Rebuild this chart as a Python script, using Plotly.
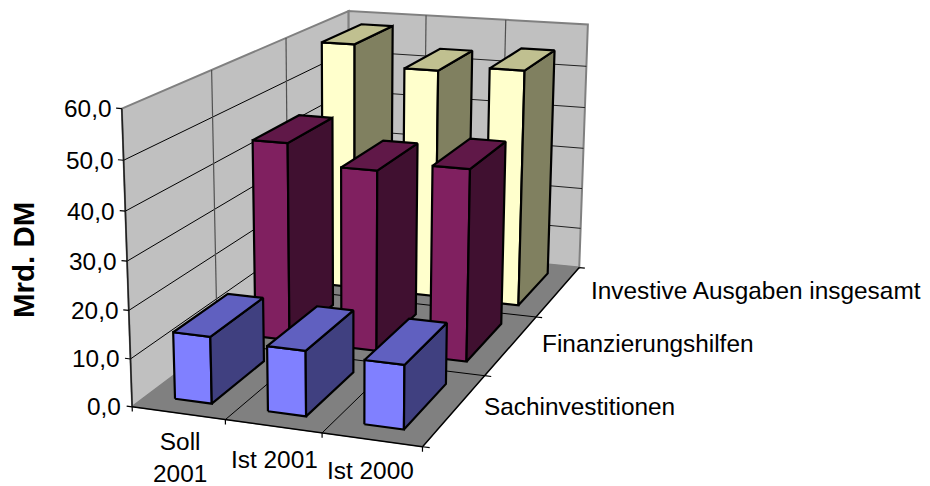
import numpy as np
import plotly.graph_objects as go

categories = ["Soll<br>2001", "Ist 2001", "Ist 2000"]
series_names = ["Sachinvestitionen", "Finanzierungshilfen", "Investive Ausgaben insgesamt"]
sach = [14.0, 13.5, 13.1]
finanz = [44.0, 39.7, 41.7]
gesamt = [58.2, 53.4, 54.7]
y_ticks = [0, 10, 20, 30, 40, 50, 60]
y_title = "Mrd. DM"

series_values = [sach, finanz, gesamt]
series_colors = [("#8080FF", "#404080", "#6060C0"),
                 ("#802060", "#401030", "#601848"),
                 ("#FFFFCC", "#808060", "#C0C090")]

# view of the 3-D box: category, series, value -> picture position
VIEW = np.array([[89.121, 106.66, -0.26347, 132.14],
                 [5.1981, -29.993, -5.051, 406.79],
                 [-0.018161, 0.098875, -0.00075264, 1.0]])
N_C, N_S, V_MAX = len(categories), len(series_names), y_ticks[-1]
BAR_U, BAR_V = (0.30, 0.70), (0.17, 0.82)
PAGE_INSET = 8  # default page margin around the figure


def pr(u, v, w):
    h = VIEW @ np.array([u, v, w, 1.0])
    return h[0] / h[2], h[1] / h[2]


fig = go.Figure()


def face(corners, fill=None, line="black", width=2.2):
    pts = [pr(*c) for c in corners]
    if fill:
        pts = pts + [pts[0]]
    fig.add_trace(go.Scatter(
        x=[p[0] for p in pts], y=[p[1] for p in pts], mode="lines",
        fill="toself" if fill else None, fillcolor=fill,
        line=dict(color=line, width=width), hoverinfo="skip", showlegend=False))


# walls and floor
face([(0, 0, 0), (0, N_S, 0), (0, N_S, V_MAX), (0, 0, V_MAX)], "#C0C0C0", "#808080", 2)
face([(0, N_S, 0), (N_C, N_S, 0), (N_C, N_S, V_MAX), (0, N_S, V_MAX)], "#C0C0C0", "#808080", 2)
face([(0, 0, 0), (N_C, 0, 0), (N_C, N_S, 0), (0, N_S, 0)], "#808080", "#808080", 1)

# gridlines
for t in y_ticks[1:-1]:
    face([(0, 0, t), (0, N_S, t)], None, "#000000", 1)
    face([(0, N_S, t), (N_C, N_S, t)], None, "#202020", 1)
for j in range(1, N_S):
    face([(0, j, 0), (0, j, V_MAX)], None, "#505050", 1.2)
    face([(0, j, 0), (N_C, j, 0)], None, "#000000", 1)
for i in range(1, N_C):
    face([(i, N_S, 0), (i, N_S, V_MAX)], None, "#505050", 1.2)
    face([(i, 0, 0), (i, N_S, 0)], None, "#000000", 1)

# axis lines and ticks
face([(0, 0, 0), (0, 0, V_MAX)], None, "#202020", 1.5)
face([(0, 0, 0), (N_C, 0, 0)], None, "#000000", 1.5)
face([(N_C, 0, 0), (N_C, N_S, 0)], None, "#000000", 1.5)
for t in y_ticks:
    face([(0, 0, t), (-0.06, 0, t)], None, "#000000", 1.2)
for i in range(N_C + 1):
    face([(i, 0, 0), (i, 0, -1)], None, "#000000", 1.2)
for j in range(N_S + 1):
    face([(N_C, j, 0), (N_C + 0.07, j, 0)], None, "#000000", 1.2)

# bars, back row first and left to right
for j in reversed(range(N_S)):
    front, side, top = series_colors[j]
    for i in range(N_C):
        h = series_values[j][i]
        u0, u1 = i + BAR_U[0], i + BAR_U[1]
        v0, v1 = j + BAR_V[0], j + BAR_V[1]
        face([(u0, v0, 0), (u1, v0, 0), (u1, v0, h), (u0, v0, h)], front)
        face([(u1, v0, 0), (u1, v1, 0), (u1, v1, h), (u1, v0, h)], side)
        face([(u0, v0, h), (u1, v0, h), (u1, v1, h), (u0, v1, h)], top)


def label(x, y, text, anchor="center", size=24.4, **kw):
    return dict(x=x, y=y, xref="x", yref="y", text=text, showarrow=False, xanchor=anchor,
                yanchor="middle", font=dict(family="Liberation Sans, Arial", size=size, color="black"), **kw)


notes = []
for t in y_ticks:
    x, y = pr(0, 0, t)
    notes.append(label(x - 9, y, f"{t},0", "right"))
for txt, (x, y) in zip(categories, [(180, 457), (274, 459), (370, 470)]):
    notes.append(label(x, y, txt))
for txt, (x, y) in zip(series_names, [(482, 406), (540, 343), (589, 290)]):
    notes.append(label(x, y, txt, "left"))
notes.append(label(23, 260, f"<b>{y_title}</b>", size=29.5, textangle=-90))

fig.update_layout(
    width=930 - PAGE_INSET, height=486 - PAGE_INSET, margin=dict(l=0, r=0, t=0, b=0),
    paper_bgcolor="white", plot_bgcolor="white", showlegend=False,
    xaxis=dict(range=[PAGE_INSET, 930], visible=False, fixedrange=True),
    yaxis=dict(range=[486, PAGE_INSET], visible=False, fixedrange=True),
    annotations=notes)
fig.write_html("out.html")
